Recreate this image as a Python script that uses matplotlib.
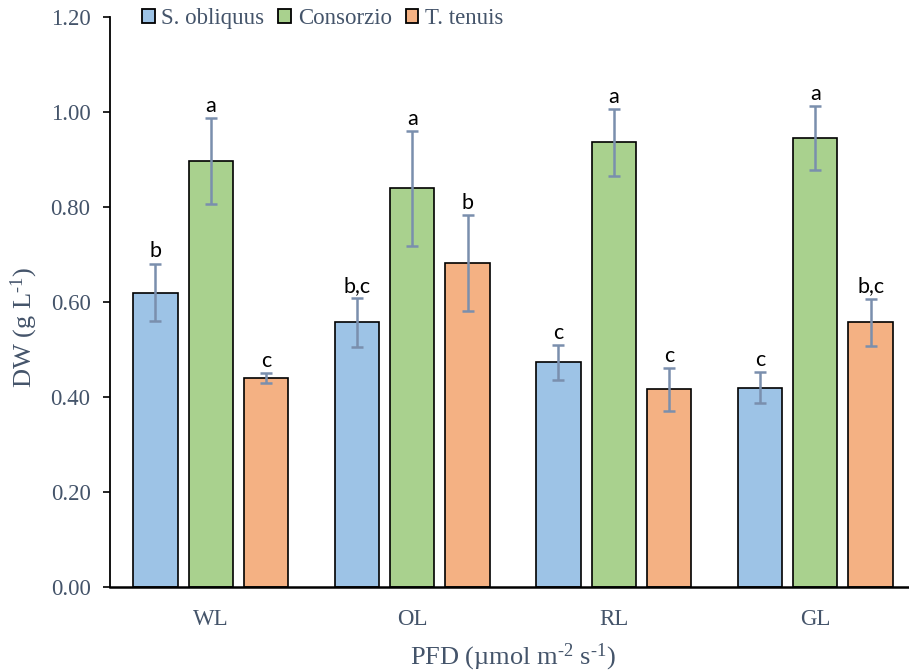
import numpy as np
import matplotlib.pyplot as plt
from matplotlib.patches import Patch

plt.rcParams["mathtext.fontset"] = "custom"
plt.rcParams["mathtext.rm"] = "Liberation Serif"
plt.rcParams["mathtext.it"] = "Liberation Serif:italic"
plt.rcParams["mathtext.bf"] = "Liberation Serif:bold"

# Treatments (light quality) and dry weight means with standard deviations
treatments = ["WL", "OL", "RL", "GL"]
series_names = ["S. obliquus", "Consorzio", "T. tenuis"]

s_obliquus = [0.620, 0.557, 0.473, 0.420]
s_obliquus_err = [0.061, 0.051, 0.037, 0.033]
consorzio = [0.897, 0.839, 0.936, 0.945]
consorzio_err = [0.090, 0.121, 0.070, 0.068]
t_tenuis = [0.440, 0.682, 0.416, 0.557]
t_tenuis_err = [0.010, 0.101, 0.045, 0.050]

s_obliquus_letters = ["b", "b,c", "c", "c"]
consorzio_letters = ["a", "a", "a", "a"]
t_tenuis_letters = ["c", "b", "c", "b,c"]

colors = ["#9DC3E6", "#A9D18E", "#F4B183"]
err_color = "#7A8FAD"
text_color = "#44546A"

fig = plt.figure(figsize=(9.09, 6.71), dpi=100)
ax = fig.add_axes([110 / 909, (671 - 587) / 671, 806 / 909, 570 / 671])

x = np.arange(len(treatments))
width = 0.22
step = 0.275

groups = [
    (s_obliquus, s_obliquus_err, s_obliquus_letters),
    (consorzio, consorzio_err, consorzio_letters),
    (t_tenuis, t_tenuis_err, t_tenuis_letters),
]

for i, (vals, errs, letters) in enumerate(groups):
    pos = x + (i - 1) * step
    ax.bar(pos, vals, width=width, color=colors[i], edgecolor="black",
           linewidth=1.2, zorder=2)
    ax.errorbar(pos, vals, yerr=errs, fmt="none", ecolor=err_color,
                elinewidth=1.8, capsize=4.5, capthick=1.8, zorder=3)
    for p, v, e, lab in zip(pos, vals, errs, letters):
        ax.annotate(lab, (p, v + e), xytext=(0, 1.5), textcoords="offset points",
                    ha="center", va="bottom", fontsize=15.5, color="black",
                    family="Lato")

ax.set_xlim(-0.5, len(treatments) - 0.5)
ax.set_ylim(0, 1.2)
ax.set_yticks(np.arange(0, 1.21, 0.2))
ax.set_yticklabels([f"{t:.2f}" for t in np.arange(0, 1.21, 0.2)])
ax.set_xticks(x)
ax.set_xticklabels(treatments)

for side in ("top", "right"):
    ax.spines[side].set_visible(False)
ax.spines["left"].set_linewidth(1.3)
ax.spines["bottom"].set_linewidth(1.8)

ax.tick_params(axis="y", direction="out", length=5, width=1.2,
               labelsize=16.5, labelcolor=text_color, pad=9)
ax.tick_params(axis="x", length=0, labelsize=16.5, labelcolor=text_color, pad=16)
for lab in ax.get_xticklabels() + ax.get_yticklabels():
    lab.set_family("Liberation Serif")

ax.set_ylabel(r"DW (g L$^{\text{-1}}$)", fontsize=19, color=text_color,
              family="Liberation Serif")
ax.yaxis.set_label_coords(-0.087, 0.456)
ax.set_xlabel(r"PFD (µmol m$^{\text{-2}}$ s$^{\text{-1}}$)",
              fontsize=19, color=text_color, family="Liberation Serif",
              labelpad=8)

handles = [Patch(facecolor=c, edgecolor="black", linewidth=1.3) for c in colors]
leg = fig.legend(handles, series_names, loc="upper left",
                 bbox_to_anchor=(142 / 909, 1 - 8 / 671), ncol=3, frameon=False,
                 borderpad=0, borderaxespad=0,
                 handlelength=0.55, handleheight=0.55, handletextpad=0.3,
                 columnspacing=0.6, prop={"family": "Liberation Serif", "size": 16.5})
for t in leg.get_texts():
    t.set_color(text_color)

fig.savefig("out.png", dpi=100)
